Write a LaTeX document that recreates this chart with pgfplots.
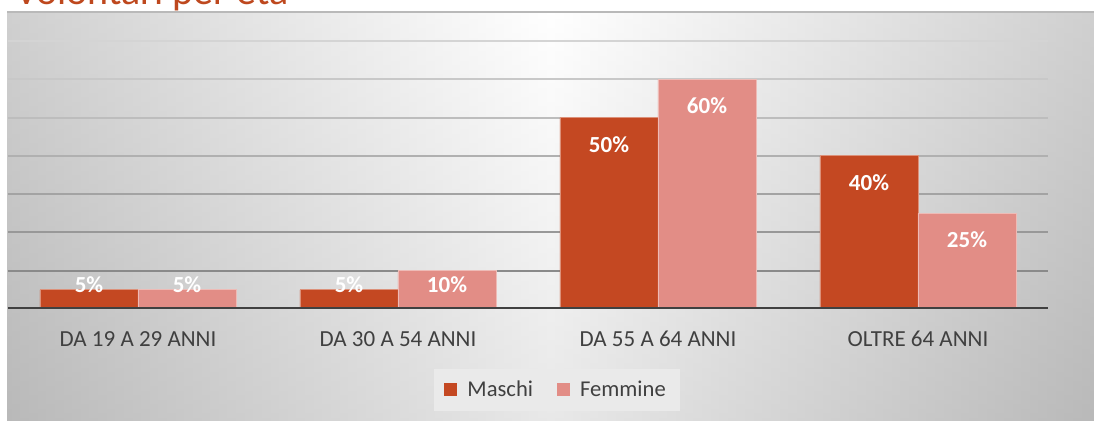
\documentclass[border=0pt]{standalone}
\usepackage{pgfplots}
\pgfplotsset{compat=1.18}
\usetikzlibrary{backgrounds}
\usepackage{fontspec}
\setmainfont{Carlito}
\definecolor{maschi}{RGB}{196,72,34}
\definecolor{femmine}{RGB}{226,141,134}
\definecolor{titlec}{RGB}{190,72,30}
\definecolor{txt}{RGB}{64,64,64}
\definecolor{axisc}{RGB}{64,64,64}
\definecolor{bgside}{RGB}{192,192,192}
\definecolor{legbg}{RGB}{234,234,234}
\definecolor{g70}{RGB}{212,212,212}
\definecolor{g60}{RGB}{200,200,200}
\definecolor{g50}{RGB}{189,189,189}
\definecolor{g40}{RGB}{176,176,176}
\definecolor{g30}{RGB}{163,163,163}
\definecolor{g20}{RGB}{152,152,152}
\definecolor{g10}{RGB}{138,138,138}
\begin{document}
\begin{tikzpicture}[x=1pt,y=1pt]
\begin{axis}[
  at={(4pt,56pt)}, anchor=south west,
  scale only axis, width=520pt, height=134pt,
  xmin=-0.5, xmax=3.5, ymin=0, ymax=70,
  axis line style={draw=none},
  xtick={0,1,2,3},
  xticklabels={DA 19 A 29 ANNI, DA 30 A 54 ANNI, DA 55 A 64 ANNI, OLTRE 64 ANNI},
  xticklabel style={font=\fontsize{11.5}{13}\selectfont, text=txt, anchor=center, yshift=-15pt},
  major tick length=0pt,
  ytick={10,20,...,70}, yticklabels={},
  legend style={at={(0.528,-0.302)}, anchor=center, draw=none, fill=legbg,
    font=\fontsize{11.3}{14}\selectfont, text=txt, legend columns=2,
    inner xsep=5pt, inner ysep=4pt,
    /tikz/every odd column/.append style={column sep=3pt},
    /tikz/every even column/.append style={column sep=10pt}},
  legend image code/.code={\fill[#1,draw=none] (0pt,-3.25pt) rectangle (6.5pt,3.25pt);},
]
\draw[g70, line width=1pt] (axis cs:-0.5,70) -- (axis cs:3.5,70);
\draw[g60, line width=1pt] (axis cs:-0.5,60) -- (axis cs:3.5,60);
\draw[g50, line width=1pt] (axis cs:-0.5,50) -- (axis cs:3.5,50);
\draw[g40, line width=1pt] (axis cs:-0.5,40) -- (axis cs:3.5,40);
\draw[g30, line width=1pt] (axis cs:-0.5,30) -- (axis cs:3.5,30);
\draw[g20, line width=1pt] (axis cs:-0.5,20) -- (axis cs:3.5,20);
\draw[g10, line width=1pt] (axis cs:-0.5,10) -- (axis cs:3.5,10);
\addplot[ybar, bar width=0.377, bar shift=-0.1885, fill=maschi, draw=maschi!60!white, line width=0.4pt]
  coordinates {(0,5) (1,5) (2,50) (3,40)};
\addlegendentry{Maschi}
\addplot[ybar, bar width=0.377, bar shift=0.1885, fill=femmine, draw=femmine!60!white, line width=0.4pt]
  coordinates {(0,5) (1,10) (2,60) (3,25)};
\addlegendentry{Femmine}
\draw[axisc, line width=2pt] (axis cs:-0.5,0) -- (axis cs:3.5,0);
\addplot[only marks, mark=none, forget plot, nodes near coords, point meta=explicit symbolic,
  nodes near coords style={anchor=center, text=white, font=\fontsize{11.5}{13}\selectfont\bfseries}]
  coordinates {(-0.1885,6.45)[5\%] (0.8115,6.45)[5\%] (1.8115,43.05)[50\%] (2.8115,33.05)[40\%]};
\addplot[only marks, mark=none, forget plot, nodes near coords, point meta=explicit symbolic,
  nodes near coords style={anchor=center, text=white, font=\fontsize{11.5}{13}\selectfont\bfseries}]
  coordinates {(0.1885,6.45)[5\%] (1.1885,6.45)[10\%] (2.1885,53.05)[60\%] (3.1885,18.05)[25\%]};
\end{axis}
\begin{pgfonlayer}{background}
\begin{scope}
\clip (0,0) rectangle (547,210.5);
\shade[left color=bgside, right color=bgside, middle color=white] (3.5,0) rectangle (547,204.5);
\shade[top color=white, bottom color=gray!70, opacity=0.25] (3.5,0) rectangle (547,204.5);
\draw[gray!55, line width=0.6pt] (3.5,204.5) -- (547,204.5);
\end{scope}
\end{pgfonlayer}
\begin{scope}
\clip (0,0) rectangle (547,210.5);
\node[anchor=base west, font=\fontsize{20}{24}\selectfont, text=titlec, inner sep=0] at (7.5,208) {Volontari per età};
\end{scope}
\pgfresetboundingbox
\useasboundingbox (0,0) rectangle (547,210.5);
\end{tikzpicture}
\end{document}
